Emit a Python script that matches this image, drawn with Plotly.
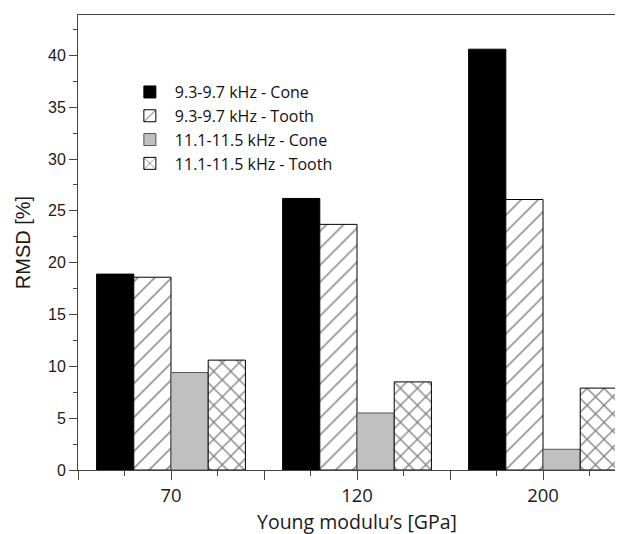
import plotly.graph_objects as go

categories = ["70", "120", "200"]
series_names = ["9.3-9.7 kHz - Cone", "9.3-9.7 kHz - Tooth",
                "11.1-11.5 kHz - Cone", "11.1-11.5 kHz - Tooth"]
cone_low = [18.9, 26.2, 40.6]
tooth_low = [18.6, 23.7, 26.1]
cone_high = [9.4, 5.5, 2.0]
tooth_high = [10.6, 8.5, 7.9]
y_ticks = [0, 5, 10, 15, 20, 25, 30, 35, 40]

xpos = list(range(len(categories)))
myriad = "Open Sans, Noto Sans, sans-serif"
arial = "Liberation Sans, Arial, sans-serif"

fig = go.Figure()
fig.add_trace(go.Bar(x=xpos, y=cone_low, name=series_names[0],
                     marker=dict(color="black", line=dict(color="black", width=1))))
fig.add_trace(go.Bar(x=xpos, y=tooth_low, name=series_names[1],
                     marker=dict(color="white", line=dict(color="black", width=1),
                                 pattern=dict(shape="/", size=12, solidity=0.12,
                                              fgcolor="black", bgcolor="white"))))
fig.add_trace(go.Bar(x=xpos, y=cone_high, name=series_names[2],
                     marker=dict(color="#c0c0c0", line=dict(color="#555555", width=1))))
fig.add_trace(go.Bar(x=xpos, y=tooth_high, name=series_names[3],
                     marker=dict(color="white", line=dict(color="black", width=1),
                                 pattern=dict(shape="x", size=12, solidity=0.2,
                                              fgcolor="black", bgcolor="white"))))

fig.update_layout(
    width=615, height=526,
    margin=dict(l=70, r=0, t=7, b=64),
    paper_bgcolor="white", plot_bgcolor="white",
    barmode="group", bargap=0.2, bargroupgap=0,
    showlegend=True,
    legend=dict(x=0.086, y=0.868, xanchor="left", yanchor="top",
                font=dict(family=myriad, size=16, color="#111"),
                bgcolor="rgba(0,0,0,0)", itemwidth=40, tracegroupgap=0),
    annotations=[dict(text="Young modulu\u2019s [GPa]", xref="x", yref="paper",
                      x=1, y=-0.113, xanchor="center", yanchor="middle",
                      showarrow=False, font=dict(family=myriad, size=19.5, color="#1a1a1a"))],
)

fig.update_xaxes(
    range=[-0.5, 2.43],
    tickmode="array",
    tickvals=[-0.5, 0, 0.5, 1, 1.5, 2, 2.5],
    ticktext=["", categories[0], "", categories[1], "", categories[2], ""],
    ticks="outside", ticklen=9, tickwidth=1, tickcolor="#444",
    minor=dict(tickmode="array", tickvals=[-0.25, 0.25, 0.75, 1.25, 1.75, 2.25],
               ticks="outside", ticklen=5, tickwidth=1, tickcolor="#444"),
    tickfont=dict(family=myriad, size=18.5, color="#1a1a1a"),
    ticklabelstandoff=0,
    showline=True, linecolor="#444", linewidth=1, mirror=True,
    showgrid=False, zeroline=False,
)
fig.update_yaxes(
    range=[0, 43.9],
    tickmode="array", tickvals=y_ticks,
    ticks="outside", ticklen=8, tickwidth=1, tickcolor="#444",
    minor=dict(dtick=2.5, tick0=0, ticks="outside", ticklen=4, tickwidth=1, tickcolor="#444"),
    tickfont=dict(family=arial, size=16, color="#1a1a1a"),
    title=dict(text="RMSD [%]", font=dict(family=arial, size=20, color="#1a1a1a"), standoff=12),
    showline=True, linecolor="#444", linewidth=1, mirror=False,
    showgrid=False, zeroline=False,
)

fig.write_html("out.html")
